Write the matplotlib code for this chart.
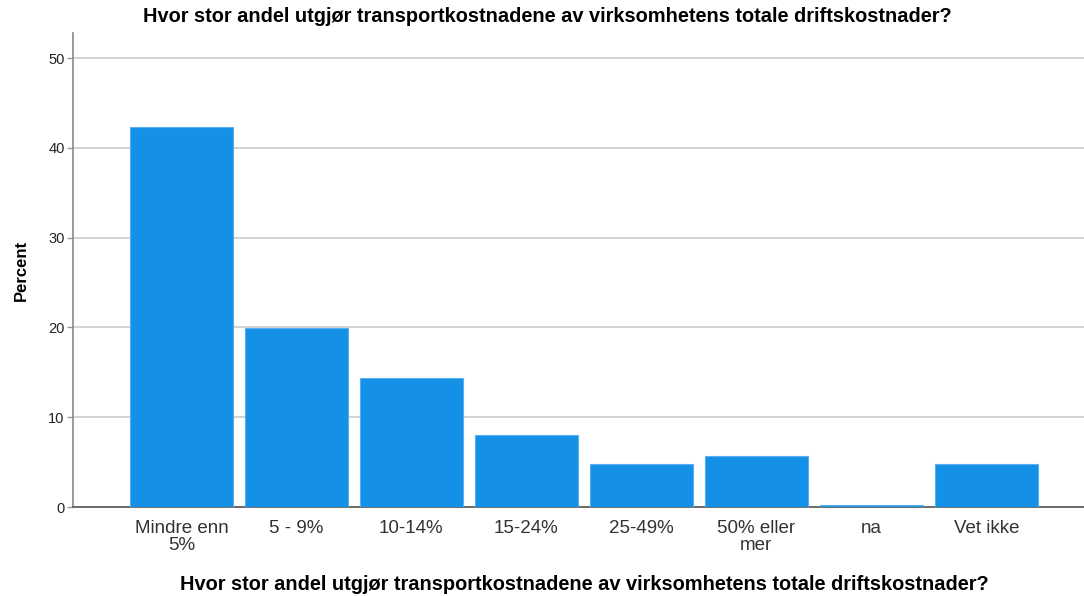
import matplotlib
matplotlib.use("Agg")
import matplotlib.pyplot as plt
import numpy as np

plt.rcParams["font.family"] = ["Liberation Sans", "DejaVu Sans"]

# ---------- data ----------
categories = ["Mindre enn\n5%", "5 - 9%", "10-14%", "15-24%", "25-49%",
              "50% eller\nmer", "na", "Vet ikke"]
percent = [42.3, 19.9, 14.4, 8.0, 4.8, 5.7, 0.2, 4.8]
yticks = [0, 10, 20, 30, 40, 50]

question = "Hvor stor andel utgjør transportkostnadene av virksomhetens totale driftskostnader?"

# ---------- figure ----------
fig = plt.figure(figsize=(10.84, 5.96), dpi=100, facecolor="white")
ax = fig.add_axes([0.0673, 0.1493, 0.9327, 0.7953])

x = np.arange(len(categories))
ax.bar(x, percent, width=0.895, color="#1490e6", edgecolor="#5aaef0",
       linewidth=0.8, zorder=3)

ax.set_xlim(-0.943, 7.85)
ax.set_ylim(0, 52.8)
ax.set_yticks(yticks)
ax.set_yticklabels([str(t) for t in yticks], fontsize=10.5, color="#222222")
ax.set_xticks(x)
ax.set_xticklabels(categories, fontsize=13.5, color="#333333", linespacing=1.0)
ax.tick_params(axis="x", length=0, pad=9)
ax.tick_params(axis="y", length=4, width=1, color="#999999", pad=2)

ax.yaxis.grid(True, color="#cccccc", linewidth=1.2, zorder=0)
ax.set_axisbelow(True)

for side in ("top", "right"):
    ax.spines[side].set_visible(False)
ax.spines["left"].set_color("#888888")
ax.spines["bottom"].set_color("#555555")
ax.spines["left"].set_linewidth(1.2)
ax.spines["bottom"].set_linewidth(1.2)

ax.set_ylabel("Percent", fontsize=12, fontweight="bold", color="black", labelpad=14)
# x-axis title and chart title share the same text
fig.text(0.539, 1 - 584 / 596, question, fontsize=14.4, fontweight="bold",
         ha="center", va="center", color="black")
fig.text(0.505, 1 - 17 / 596, question, fontsize=14.4, fontweight="bold",
         ha="center", va="center", color="black")

fig.savefig("out.png", dpi=100, facecolor="white")
